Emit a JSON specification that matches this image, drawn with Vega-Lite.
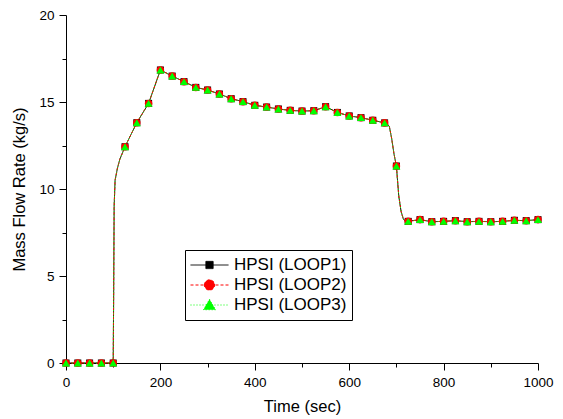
{
  "$schema": "https://vega.github.io/schema/vega-lite/v6.json",
  "width": 472,
  "height": 348,
  "autosize": "none",
  "padding": {"left": 66, "top": 15, "right": 25, "bottom": 56},
  "background": "white",
  "config": {
    "font": "Liberation Sans",
    "view": {"stroke": null},
    "axis": {
      "grid": false,
      "domainColor": "black",
      "tickColor": "black",
      "labelColor": "black",
      "titleColor": "black",
      "labelFont": "Liberation Sans",
      "titleFont": "Liberation Sans",
      "titleFontWeight": "normal",
      "labelFontSize": 13.5,
      "titleFontSize": 16.5
    }
  },
  "data": {
    "values": [
      {"t": 0, "loop1": 0, "loop2": 0, "loop3": 0},
      {"t": 25, "loop1": 0, "loop2": 0, "loop3": 0},
      {"t": 50, "loop1": 0, "loop2": 0, "loop3": 0},
      {"t": 75, "loop1": 0, "loop2": 0, "loop3": 0},
      {"t": 100, "loop1": 0, "loop2": 0, "loop3": 0},
      {"t": 101, "loop1": 4, "loop2": 4, "loop3": 4},
      {"t": 102, "loop1": 9, "loop2": 9, "loop3": 9},
      {"t": 104, "loop1": 10.5, "loop2": 10.5, "loop3": 10.5},
      {"t": 109, "loop1": 11.2, "loop2": 11.2, "loop3": 11.2},
      {"t": 114, "loop1": 11.7, "loop2": 11.7, "loop3": 11.7},
      {"t": 120, "loop1": 12.1, "loop2": 12.1, "loop3": 12.1},
      {"t": 125, "loop1": 12.43, "loop2": 12.43, "loop3": 12.43},
      {"t": 150, "loop1": 13.81, "loop2": 13.81, "loop3": 13.81},
      {"t": 175, "loop1": 14.92, "loop2": 14.92, "loop3": 14.92},
      {"t": 200, "loop1": 16.84, "loop2": 16.84, "loop3": 16.84},
      {"t": 225, "loop1": 16.49, "loop2": 16.49, "loop3": 16.49},
      {"t": 250, "loop1": 16.17, "loop2": 16.17, "loop3": 16.17},
      {"t": 275, "loop1": 15.84, "loop2": 15.84, "loop3": 15.84},
      {"t": 300, "loop1": 15.69, "loop2": 15.69, "loop3": 15.69},
      {"t": 325, "loop1": 15.46, "loop2": 15.46, "loop3": 15.46},
      {"t": 350, "loop1": 15.19, "loop2": 15.19, "loop3": 15.19},
      {"t": 375, "loop1": 15.02, "loop2": 15.02, "loop3": 15.02},
      {"t": 400, "loop1": 14.81, "loop2": 14.81, "loop3": 14.81},
      {"t": 425, "loop1": 14.71, "loop2": 14.71, "loop3": 14.71},
      {"t": 450, "loop1": 14.6, "loop2": 14.6, "loop3": 14.6},
      {"t": 475, "loop1": 14.52, "loop2": 14.52, "loop3": 14.52},
      {"t": 500, "loop1": 14.48, "loop2": 14.48, "loop3": 14.48},
      {"t": 525, "loop1": 14.5, "loop2": 14.5, "loop3": 14.5},
      {"t": 550, "loop1": 14.73, "loop2": 14.73, "loop3": 14.73},
      {"t": 575, "loop1": 14.4, "loop2": 14.4, "loop3": 14.4},
      {"t": 600, "loop1": 14.2, "loop2": 14.2, "loop3": 14.2},
      {"t": 625, "loop1": 14.1, "loop2": 14.1, "loop3": 14.1},
      {"t": 650, "loop1": 13.95, "loop2": 13.95, "loop3": 13.95},
      {"t": 675, "loop1": 13.8, "loop2": 13.8, "loop3": 13.8},
      {"t": 680, "loop1": 13.75, "loop2": 13.75, "loop3": 13.75},
      {"t": 685, "loop1": 13.6, "loop2": 13.6, "loop3": 13.6},
      {"t": 690, "loop1": 12.9, "loop2": 12.9, "loop3": 12.9},
      {"t": 695, "loop1": 12.0, "loop2": 12.0, "loop3": 12.0},
      {"t": 700, "loop1": 11.32, "loop2": 11.32, "loop3": 11.32},
      {"t": 705, "loop1": 9.6, "loop2": 9.6, "loop3": 9.6},
      {"t": 710, "loop1": 8.7, "loop2": 8.7, "loop3": 8.7},
      {"t": 715, "loop1": 8.25, "loop2": 8.25, "loop3": 8.25},
      {"t": 720, "loop1": 8.15, "loop2": 8.15, "loop3": 8.15},
      {"t": 725, "loop1": 8.14, "loop2": 8.14, "loop3": 8.14},
      {"t": 750, "loop1": 8.24, "loop2": 8.24, "loop3": 8.24},
      {"t": 775, "loop1": 8.12, "loop2": 8.12, "loop3": 8.12},
      {"t": 800, "loop1": 8.14, "loop2": 8.14, "loop3": 8.14},
      {"t": 825, "loop1": 8.18, "loop2": 8.18, "loop3": 8.18},
      {"t": 850, "loop1": 8.12, "loop2": 8.12, "loop3": 8.12},
      {"t": 875, "loop1": 8.14, "loop2": 8.14, "loop3": 8.14},
      {"t": 900, "loop1": 8.12, "loop2": 8.12, "loop3": 8.12},
      {"t": 925, "loop1": 8.14, "loop2": 8.14, "loop3": 8.14},
      {"t": 950, "loop1": 8.2, "loop2": 8.2, "loop3": 8.2},
      {"t": 975, "loop1": 8.18, "loop2": 8.18, "loop3": 8.18},
      {"t": 1000, "loop1": 8.24, "loop2": 8.24, "loop3": 8.24}
    ]
  },
  "transform": [
    {"fold": ["loop1", "loop2", "loop3"], "as": ["series", "flow"]}
  ],
  "layer": [
    {
      "mark": {"type": "line", "strokeWidth": 1, "interpolate": "linear"},
      "encoding": {
        "x": {
          "field": "t", "type": "quantitative",
          "scale": {"domain": [0, 1000], "nice": false, "zero": false},
          "axis": {"orient": "bottom", "values": [0, 200, 400, 600, 800, 1000], "format": "d", "tickSize": 7, "labelPadding": 5, "title": "Time (sec)", "titlePadding": 10, "labelFlush": false, "labelOverlap": false}
        },
        "y": {
          "field": "flow", "type": "quantitative",
          "scale": {"domain": [0, 20], "nice": false},
          "axis": {"orient": "left", "values": [0, 5, 10, 15, 20], "tickSize": 7, "labelPadding": 5, "title": "Mass Flow Rate (kg/s)", "titlePadding": 11}
        },
        "color": {
          "field": "series", "type": "nominal",
          "scale": {"domain": ["loop1", "loop2", "loop3"], "range": ["#000000", "#ff0000", "#00ff00"]},
          "legend": null
        },
        "strokeDash": {
          "field": "series", "type": "nominal",
          "scale": {"domain": ["loop1", "loop2", "loop3"], "range": [[1, 0], [3, 2], [1, 2]]},
          "legend": null
        }
      }
    },
    {
      "transform": [{"filter": "datum.t % 25 === 0"}],
      "mark": {"type": "point", "filled": true, "opacity": 1},
      "encoding": {
        "x": {
          "field": "t", "type": "quantitative",
          "axis": {"orient": "bottom", "values": [100, 300, 500, 700, 900], "tickSize": 4, "labels": false, "domain": false, "title": null}
        },
        "y": {
          "field": "flow", "type": "quantitative",
          "axis": {"orient": "left", "values": [2.5, 7.5, 12.5, 17.5], "tickSize": 4, "labels": false, "domain": false, "title": null}
        },
        "color": {
          "field": "series", "type": "nominal",
          "scale": {"domain": ["loop1", "loop2", "loop3"], "range": ["#000000", "#ff0000", "#00ff00"]},
          "legend": null
        },
        "shape": {
          "field": "series", "type": "nominal",
          "scale": {"domain": ["loop1", "loop2", "loop3"], "range": ["square", "circle", "triangle-up"]},
          "legend": null
        },
        "size": {
          "field": "series", "type": "nominal",
          "scale": {"domain": ["loop1", "loop2", "loop3"], "range": [49, 64, 81]},
          "legend": null
        }
      }
    },
    {
      "transform": [{"filter": "datum.t < 0"}],
      "mark": {"type": "point", "filled": true, "opacity": 1, "strokeWidth": 1, "size": 1444},
      "encoding": {
        "x": {"field": "t", "type": "quantitative", "axis": null},
        "y": {"field": "flow", "type": "quantitative", "axis": null},
        "color": {
          "field": "series", "type": "nominal",
          "scale": {"domain": ["loop1", "loop2", "loop3"], "range": ["#000000", "#ff0000", "#00ff00"]},
          "legend": {
            "orient": "none",
            "legendX": 119,
            "legendY": 235,
            "title": null,
            "strokeColor": "black",
            "fillColor": "white",
            "padding": 5,
            "labelFont": "Liberation Sans",
            "labelFontSize": 17,
            "labelColor": "black",
            "labelOffset": 5,
            "symbolSize": 1444,
            "symbolStrokeWidth": 1,
            "symbolOpacity": 1,
            "clipHeight": 20,
            "rowPadding": 0,
            "labelExpr": "'HPSI (' + upper(datum.label) + ')'"
          }
        },
        "stroke": {
          "field": "series", "type": "nominal",
          "scale": {"domain": ["loop1", "loop2", "loop3"], "range": ["#000000", "#ff0000", "#00ff00"]},
          "legend": {
            "orient": "none",
            "legendX": 119,
            "legendY": 235,
            "title": null,
            "strokeColor": "black",
            "fillColor": "white",
            "padding": 5,
            "labelFont": "Liberation Sans",
            "labelFontSize": 17,
            "labelColor": "black",
            "labelOffset": 5,
            "symbolSize": 1444,
            "symbolStrokeWidth": 1,
            "symbolOpacity": 1,
            "clipHeight": 20,
            "rowPadding": 0,
            "labelExpr": "'HPSI (' + upper(datum.label) + ')'"
          }
        },
        "strokeDash": {
          "field": "series", "type": "nominal",
          "scale": {"domain": ["loop1", "loop2", "loop3"], "range": [[1, 0], [3, 2], [1, 2]]},
          "legend": {
            "orient": "none",
            "legendX": 119,
            "legendY": 235,
            "title": null,
            "strokeColor": "black",
            "fillColor": "white",
            "padding": 5,
            "labelFont": "Liberation Sans",
            "labelFontSize": 17,
            "labelColor": "black",
            "labelOffset": 5,
            "symbolSize": 1444,
            "symbolStrokeWidth": 1,
            "symbolOpacity": 1,
            "clipHeight": 20,
            "rowPadding": 0,
            "labelExpr": "'HPSI (' + upper(datum.label) + ')'"
          }
        },
        "shape": {
          "field": "series", "type": "nominal",
          "scale": {"domain": ["loop1", "loop2", "loop3"], "range": ["M-1,0H1M-0.19,-0.19H0.19V0.19H-0.19Z", "M-1,0H1M-0.27,0A0.27,0.27,0,1,1,0.27,0A0.27,0.27,0,1,1,-0.27,0Z", "M-1,0H1M0,-0.3L0.32,0.25L-0.32,0.25Z"]},
          "legend": {
            "orient": "none",
            "legendX": 119,
            "legendY": 235,
            "title": null,
            "strokeColor": "black",
            "fillColor": "white",
            "padding": 5,
            "labelFont": "Liberation Sans",
            "labelFontSize": 17,
            "labelColor": "black",
            "labelOffset": 5,
            "symbolSize": 1444,
            "symbolStrokeWidth": 1,
            "symbolOpacity": 1,
            "clipHeight": 20,
            "rowPadding": 0,
            "labelExpr": "'HPSI (' + upper(datum.label) + ')'"
          }
        }
      }
    }
  ],
  "resolve": {
    "axis": {"x": "independent", "y": "independent"},
    "scale": {"color": "independent", "stroke": "independent", "strokeDash": "independent", "shape": "independent", "size": "independent"}
  }
}
